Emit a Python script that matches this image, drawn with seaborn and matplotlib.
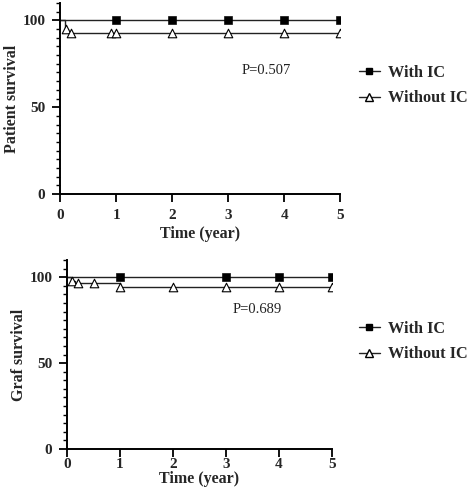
import numpy as np
import pandas as pd
import matplotlib
matplotlib.use("Agg")
import matplotlib.pyplot as plt
from matplotlib.lines import Line2D
import seaborn as sns

# patient survival (top)
pat_with_t = [0, 5]
pat_with_s = [100, 100]
pat_with_cens_t = [1, 2, 3, 4, 5]
pat_with_cens_s = [100, 100, 100, 100, 100]
pat_wo_t = [0, 0.08, 0.15, 5]
pat_wo_s = [100, 95.0, 92.7, 92.7]
pat_wo_cens_t = [0.1, 0.2, 0.9, 1, 2, 3, 4, 5]
pat_wo_cens_s = [95.0, 92.7, 92.7, 92.7, 92.7, 92.7, 92.7, 92.7]

# graft survival (bottom)
gr_with_t = [0, 5]
gr_with_s = [100, 100]
gr_with_cens_t = [1, 3, 4, 5]
gr_with_cens_s = [100, 100, 100, 100]
gr_wo_t = [0, 0.08, 0.15, 1.0, 5]
gr_wo_s = [100, 97.8, 96.5, 94.5, 94.5]
gr_wo_cens_t = [0.1, 0.2, 0.5, 1, 2, 3, 4, 5]
gr_wo_cens_s = [97.8, 96.5, 96.5, 94.5, 94.5, 94.5, 94.5, 94.5]

sns.set_style("ticks")
plt.rcParams["font.family"] = ["Liberation Serif", "DejaVu Serif"]

fig = plt.figure(figsize=(4.69, 5.0), dpi=100)
ax1 = fig.add_axes([0.128, 0.612, 0.598, 0.382])
ax2 = fig.add_axes([0.143, 0.102, 0.565, 0.378])


def draw(ax, wt, ws, wct, wcs, ot, os_, oct_, ocs, ylabel, ptxt, pxy, leg_y,
         xpad, xlabpad):
    sns.lineplot(x=wt, y=ws, ax=ax, color="#222222", lw=1.0, drawstyle="steps-post")
    sns.lineplot(x=ot, y=os_, ax=ax, color="#222222", lw=1.0, drawstyle="steps-post")
    sns.scatterplot(x=wct, y=wcs, ax=ax, marker="s", s=30, color="black",
                    edgecolor="black", zorder=5)
    sns.scatterplot(x=oct_, y=ocs, ax=ax, marker="^", s=38, facecolor="white",
                    edgecolor="black", linewidth=0.8, zorder=5)
    ax.set_xlim(0, 5)
    ax.set_ylim(0, 110)
    ax.set_xticks([0, 1, 2, 3, 4, 5])
    ax.set_yticks([0, 50, 100])
    ax.set_yticks(np.arange(0, 111, 5), minor=True)
    ax.tick_params(axis="both", which="major", labelsize=11, width=1.3, length=5.5,
                   color="black", pad=5)
    ax.tick_params(axis="x", which="major", pad=xpad)
    ax.tick_params(axis="y", which="minor", width=1.0, length=3, color="black")
    for lab in ax.get_xticklabels() + ax.get_yticklabels():
        lab.set_fontweight("bold")
    for sp in ["left", "bottom"]:
        ax.spines[sp].set_linewidth(1.4)
        ax.spines[sp].set_color("black")
    sns.despine(ax=ax)
    ax.set_xlabel("Time (year)", fontsize=11.5, fontweight="bold", labelpad=xlabpad)
    ax.set_ylabel(ylabel, fontsize=11.5, fontweight="bold", labelpad=2)
    ax.text(pxy[0], pxy[1], ptxt, fontsize=10.5, ha="center", va="center", color="#222222")
    handles = [
        Line2D([], [], color="#222222", lw=1.0, marker="s", markersize=5,
               markerfacecolor="black", markeredgecolor="black"),
        Line2D([], [], color="#222222", lw=1.0, marker="^", markersize=5.5,
               markerfacecolor="white", markeredgecolor="black"),
    ]
    ax.legend(handles, ["With IC", "Without IC"], loc="center left",
              bbox_to_anchor=(0.765, leg_y), bbox_transform=fig.transFigure,
              frameon=False, borderpad=0, borderaxespad=0, handlelength=1.3,
              handletextpad=0.5, labelspacing=0.6,
              prop={"weight": "bold", "size": 11.7})


draw(ax1, pat_with_t, pat_with_s, pat_with_cens_t, pat_with_cens_s,
     pat_wo_t, pat_wo_s, pat_wo_cens_t, pat_wo_cens_s,
     "Patient survival", "P=0.507", (3.67, 71), 0.829, 5, 3)
draw(ax2, gr_with_t, gr_with_s, gr_with_cens_t, gr_with_cens_s,
     gr_wo_t, gr_wo_s, gr_wo_cens_t, gr_wo_cens_s,
     "Graf survival", "P=0.689", (3.58, 81), 0.317, 1, 0)

fig.savefig("out.png", dpi=100)
